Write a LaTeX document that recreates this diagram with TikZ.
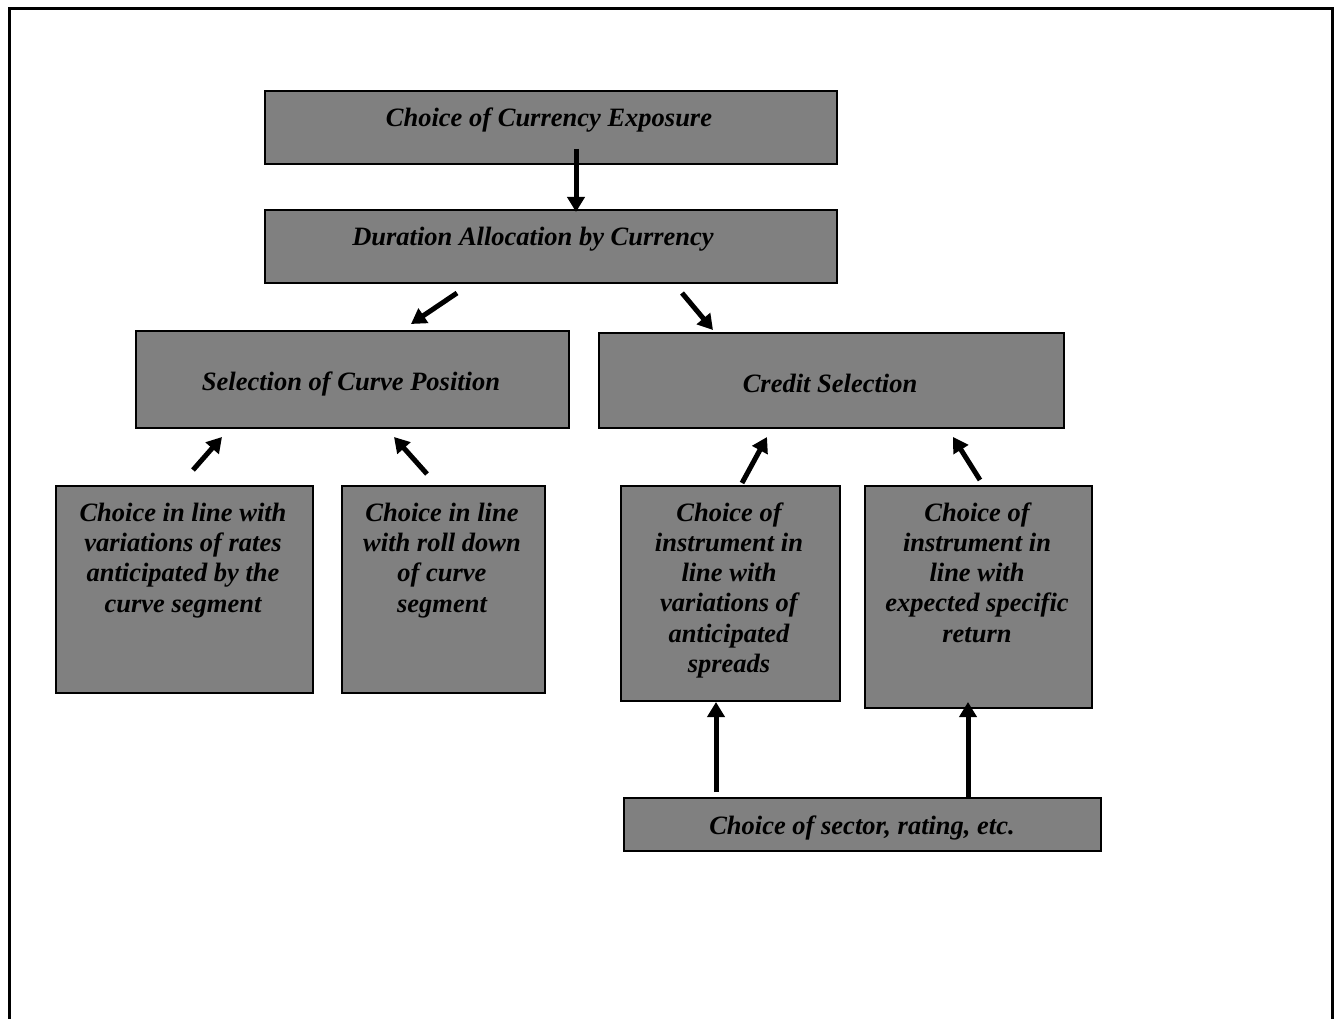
\documentclass[tikz,border=0pt]{standalone}
\usepackage{fontspec}
\setmainfont{Liberation Serif}
\usetikzlibrary{arrows.meta}
\definecolor{boxgray}{RGB}{128,128,128}
\begin{document}
\begin{tikzpicture}[x=1pt,y=-1pt,
  box/.style={draw=black, line width=2pt, fill=boxgray, anchor=north west, inner sep=0pt},
  lbl/.style={font=\fontsize{26.5}{30.3}\selectfont\bfseries\itshape, align=center, inner sep=0pt, anchor=base},
  arr/.style={line width=5pt, -{Triangle[width=17pt,length=15pt]}}]
\useasboundingbox (0,0) rectangle (1335,1019);
\fill[white] (0,0) rectangle (1335,1019);
\draw[line width=3pt] (9,1025) -- (9,9) -- (1332,9) -- (1332,1025);

% boxes
\node[box, minimum width=572pt, minimum height=73pt] (b1) at (264,90) {};
\node[box, minimum width=572pt, minimum height=73pt] (b2) at (264,209) {};
\node[box, minimum width=433pt, minimum height=97pt] (b3) at (135,330) {};
\node[box, minimum width=465pt, minimum height=95pt] (b4) at (598,332) {};
\node[box, minimum width=257pt, minimum height=207pt] (b5) at (55,485) {};
\node[box, minimum width=203pt, minimum height=207pt] (b6) at (341,485) {};
\node[box, minimum width=219pt, minimum height=215pt] (b7) at (620,485) {};
\node[box, minimum width=227pt, minimum height=222pt] (b8) at (864,485) {};
\node[box, minimum width=477pt, minimum height=53pt] (b9) at (623,797) {};

% texts (multi-line nodes are placed by the baseline of their last line)
\node[lbl] (t1) at (549,127) {Choice of Currency Exposure};
\node[lbl] (t2) at (533,245) {Duration Allocation by Currency};
\node[lbl] (t3) at (351,390) {Selection of Curve Position};
\node[lbl] (t4) at (830,392) {Credit Selection};
\node[lbl] (t5) at (183,612) {Choice in line with\\variations of rates\\anticipated by the\\curve segment};
\node[lbl] (t6) at (442,612) {Choice in line\\with roll down\\of curve\\segment};
\node[lbl] (t7) at (729,672.5) {Choice of\\instrument in\\line with\\variations of\\anticipated\\spreads};
\node[lbl] (t8) at (977,642.2) {Choice of\\instrument in\\line with\\expected specific\\return};
\node[lbl] (t9) at (862,834) {Choice of sector, rating, etc.};

% arrow end points
\coordinate (a1s) at (576,149); \coordinate (a1e) at (576,212);
\coordinate (a2s) at (457,293); \coordinate (a2e) at (411,324);
\coordinate (a3s) at (682,293); \coordinate (a3e) at (713,330);
\coordinate (a4s) at (193,470); \coordinate (a4e) at (222,437);
\coordinate (a5s) at (427,474); \coordinate (a5e) at (394,437);
\coordinate (a6s) at (742,483); \coordinate (a6e) at (767,437);
\coordinate (a7s) at (980,480); \coordinate (a7e) at (953,437);
\coordinate (a8s) at (716,792); \coordinate (a8e) at (716,702);
\coordinate (a9s) at (968,797); \coordinate (a9e) at (968,702);

\draw[arr] (a1s) -- (a1e);
\draw[arr] (a2s) -- (a2e);
\draw[arr] (a3s) -- (a3e);
\draw[arr] (a4s) -- (a4e);
\draw[arr] (a5s) -- (a5e);
\draw[arr] (a6s) -- (a6e);
\draw[arr] (a7s) -- (a7e);
\draw[arr] (a8s) -- (a8e);
\draw[arr] (a9s) -- (a9e);
\end{tikzpicture}
\end{document}
